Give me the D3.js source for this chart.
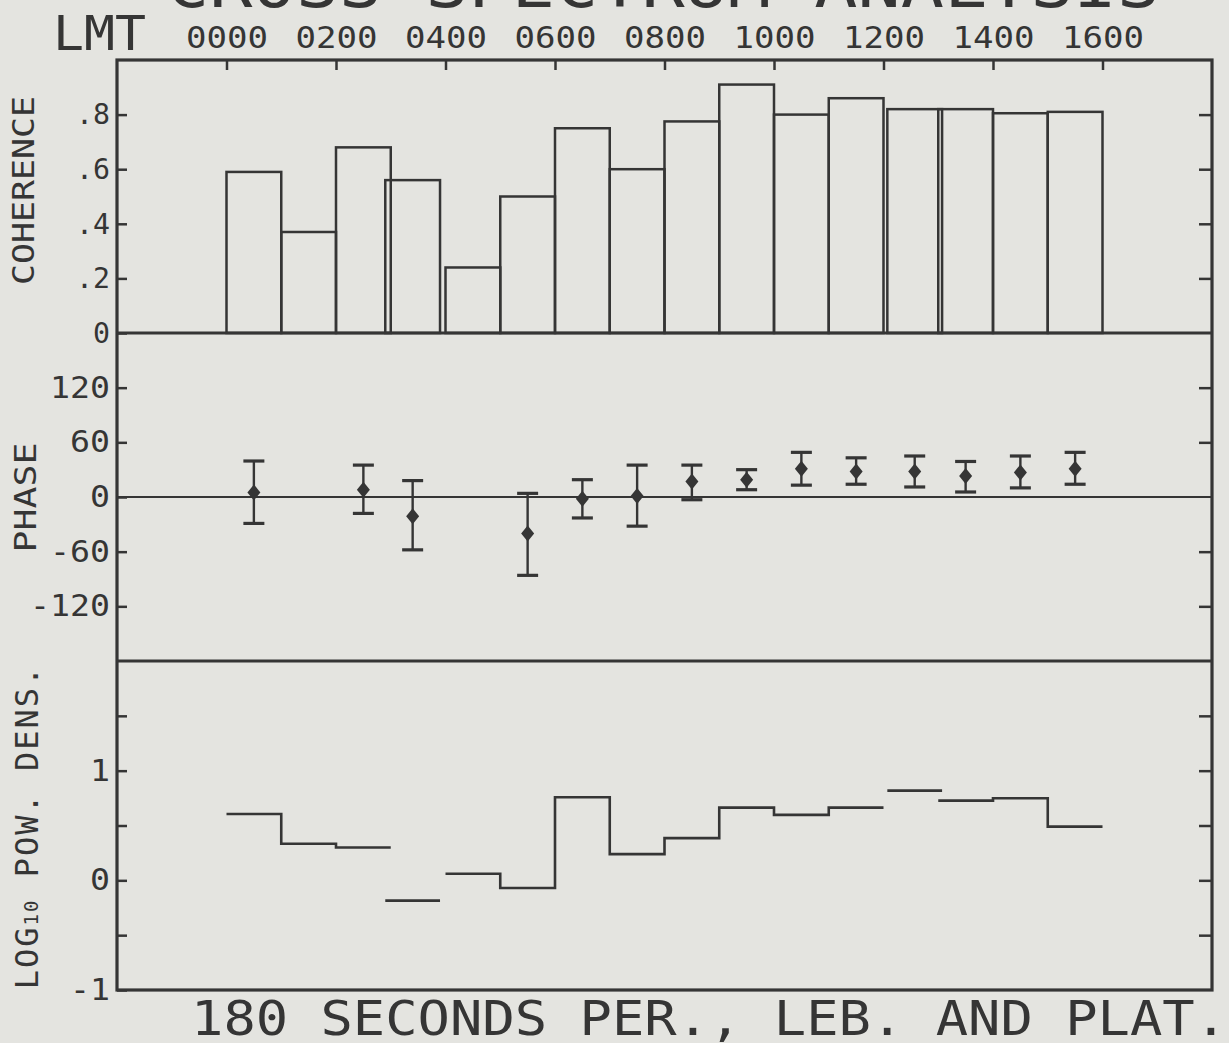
<!DOCTYPE html>
<html><head><meta charset="utf-8">
<script src="https://cdn.jsdelivr.net/npm/d3@7"></script>
<style>
body{margin:0;background:#e4e4e0;}
svg{display:block;}
text{font-family:"DejaVu Sans Mono", monospace; fill:#353535;}
</style></head><body>
<svg id="c" width="1229" height="1043"></svg>
<script>
// ---- data (hours LMT, one bin per hour) ----
const binStart  = [0, 1, 2, 2.9, 4, 5, 6, 7, 8, 9, 10, 11, 12.07, 13, 14, 15];
const coherence = [0.59, 0.37, 0.68, 0.56, 0.24, 0.50, 0.75, 0.60, 0.775, 0.91, 0.80, 0.86, 0.82, 0.82, 0.805, 0.81];
const logPower  = [0.605, 0.333, 0.30, -0.185, 0.06, -0.07, 0.757, 0.239, 0.385, 0.663, 0.597, 0.663, 0.818, 0.727, 0.748, 0.49];
const phaseTime = [0.5, 2.5, 3.4, 5.5, 6.5, 7.5, 8.5, 9.5, 10.5, 11.5, 12.57, 13.5, 14.5, 15.5];
const phase     = [5, 8, -21, -40, -2, 1, 17, 19, 31, 28, 28, 23, 27, 31];
const phaseLow  = [-29, -18, -58, -86, -23, -32, -3, 8, 13, 14, 11, 5.5, 10, 14];
const phaseHigh = [39.5, 35, 18, 4, 19, 35, 35, 30, 49, 43, 45, 39, 45, 49];
const lmtTicks  = [0, 2, 4, 6, 8, 10, 12, 14, 16];
const lmtLabels = ["0000","0200","0400","0600","0800","1000","1200","1400","1600"];
const cohTicks  = [0, 0.2, 0.4, 0.6, 0.8];
const cohLabels = ["0", ".2", ".4", ".6", ".8"];
const phaseTicks  = [-120, -60, 0, 60, 120];
const phaseLabels = ["-120", "-60", "0", "60", "120"];
const logTicks  = [-1, -0.5, 0, 0.5, 1, 1.5];
const logLabels = ["-1", "", "0", "", "1", ""];
const titleText = "CROSS SPECTRUM ANALYSIS";
const bottomText = "180 SECONDS PER., LEB. AND PLAT.";

const ink = "#353535";
const svg = d3.select("#c");
const L = 117, R = 1212, T = 60, S1 = 333, S2 = 661, B = 990;

const x  = d3.scaleLinear().domain([-2, 18]).range([L, R]);
const yC = d3.scaleLinear().domain([0, 1]).range([S1, T]);
const yP = d3.scaleLinear().domain([-180, 180]).range([S2, S1]);
const yL = d3.scaleLinear().domain([-1, 2]).range([B, S2]);

function styleAxis(g, fs, pitch) {
  g.select(".domain").remove();
  g.selectAll(".tick line").attr("stroke", ink).attr("stroke-width", 2.5);
  g.selectAll(".tick text").attr("fill", ink).style("font-size", fs + "px")
    .attr("font-family", null)
    .each(function() {
      const t = d3.select(this).text();
      if (t.length && pitch) d3.select(this).attr("textLength", t.length * pitch).attr("lengthAdjust", "spacingAndGlyphs");
    });
}

// top axis
svg.append("g").attr("transform", `translate(0,${T})`)
  .call(d3.axisTop(x).tickValues(lmtTicks).tickSizeInner(-10).tickSizeOuter(0).tickPadding(12)
        .tickFormat((d, i) => lmtLabels[i]))
  .call(g => styleAxis(g, 31, 20.5));

// left axes
svg.append("g").attr("transform", `translate(${L},0)`)
  .call(d3.axisLeft(yC).tickValues(cohTicks).tickSizeInner(-10).tickSizeOuter(0).tickPadding(7)
        .tickFormat((d, i) => cohLabels[i]))
  .call(g => styleAxis(g, 29, 17));
svg.append("g").attr("transform", `translate(${L},0)`)
  .call(d3.axisLeft(yP).tickValues(phaseTicks).tickSizeInner(-10).tickSizeOuter(0).tickPadding(7)
        .tickFormat((d, i) => phaseLabels[i]))
  .call(g => styleAxis(g, 30, 20));
svg.append("g").attr("transform", `translate(${L},0)`)
  .call(d3.axisLeft(yL).tickValues(logTicks).tickSizeInner(-10).tickSizeOuter(0).tickPadding(7)
        .tickFormat((d, i) => logLabels[i]))
  .call(g => styleAxis(g, 30, 20));

// right axes (ticks only)
[[yC, cohTicks.slice(1)], [yP, phaseTicks.filter(d => d !== 0)], [yL, logTicks.slice(1)]].forEach(([sc, tv]) => {
  svg.append("g").attr("transform", `translate(${R},0)`)
    .call(d3.axisRight(sc).tickValues(tv).tickSizeInner(-13).tickSizeOuter(0).tickFormat(""))
    .call(g => styleAxis(g, 10, 0));
});

// coherence bars
svg.append("g").selectAll("rect").data(coherence).join("rect")
  .attr("x", (d, i) => x(binStart[i]))
  .attr("width", (d, i) => x(binStart[i] + 1) - x(binStart[i]))
  .attr("y", d => yC(d))
  .attr("height", d => yC(0) - yC(d))
  .attr("fill", "none").attr("stroke", ink).attr("stroke-width", 2.5);

// phase zero line
svg.append("line").attr("x1", L).attr("x2", R).attr("y1", yP(0)).attr("y2", yP(0))
  .attr("stroke", ink).attr("stroke-width", 2.2);

// phase error bars + diamonds
const pg = svg.append("g").selectAll("g").data(phase).join("g")
  .attr("transform", (d, i) => `translate(${x(phaseTime[i])},0)`);
pg.append("line").attr("y1", (d, i) => yP(phaseLow[i])).attr("y2", (d, i) => yP(phaseHigh[i]))
  .attr("stroke", ink).attr("stroke-width", 2.4);
pg.append("line").attr("x1", -10.5).attr("x2", 10.5)
  .attr("y1", (d, i) => yP(phaseLow[i])).attr("y2", (d, i) => yP(phaseLow[i]))
  .attr("stroke", ink).attr("stroke-width", 3.2);
pg.append("line").attr("x1", -10.5).attr("x2", 10.5)
  .attr("y1", (d, i) => yP(phaseHigh[i])).attr("y2", (d, i) => yP(phaseHigh[i]))
  .attr("stroke", ink).attr("stroke-width", 3.2);
pg.append("path").attr("d", d => `M0,${yP(d) - 8}L6.5,${yP(d)}L0,${yP(d) + 8}L-6.5,${yP(d)}Z`)
  .attr("fill", ink);

// log power density step line (segments joined when bins are adjacent)
const groups = [];
logPower.forEach((v, i) => {
  const seg = [[binStart[i], v], [binStart[i] + 1, v]];
  if (i > 0 && Math.abs(binStart[i - 1] + 1 - binStart[i]) < 1e-6) groups[groups.length - 1].push(...seg);
  else groups.push(seg);
});
const line = d3.line().x(d => x(d[0])).y(d => yL(d[1]));
svg.append("g").selectAll("path").data(groups).join("path")
  .attr("d", line).attr("fill", "none").attr("stroke", ink).attr("stroke-width", 2.6);

// frame and panel separators
svg.append("rect").attr("x", L).attr("y", T).attr("width", R - L).attr("height", B - T)
  .attr("fill", "none").attr("stroke", ink).attr("stroke-width", 3.2);
[S1, S2].forEach(y => svg.append("line").attr("x1", L).attr("x2", R).attr("y1", y).attr("y2", y)
  .attr("stroke", ink).attr("stroke-width", 3.2));

// texts
svg.append("text").attr("x", 166).attr("y", 7).style("font-size", "64px")
  .attr("textLength", 994).attr("lengthAdjust", "spacingAndGlyphs").text(titleText);
svg.append("text").attr("x", 53).attr("y", 50).style("font-size", "48px")
  .attr("textLength", 93).attr("lengthAdjust", "spacingAndGlyphs").text("LMT");
svg.append("text").attr("x", 191).attr("y", 1035).style("font-size", "48px")
  .attr("textLength", 1036).attr("lengthAdjust", "spacingAndGlyphs").text(bottomText);

svg.append("text").attr("transform", "translate(34,190.5) rotate(-90)").attr("text-anchor", "middle")
  .style("font-size", "30px").attr("textLength", 189).attr("lengthAdjust", "spacingAndGlyphs").text("COHERENCE");
svg.append("text").attr("transform", "translate(36,497.5) rotate(-90)").attr("text-anchor", "middle")
  .style("font-size", "31px").attr("textLength", 110).attr("lengthAdjust", "spacingAndGlyphs").text("PHASE");
const lt = svg.append("text").attr("transform", "translate(38,827) rotate(-90)").attr("text-anchor", "middle")
  .style("font-size", "32px").style("letter-spacing", "2px");
lt.append("tspan").text("LOG");
lt.append("tspan").style("font-size", "19px").text("10");
lt.append("tspan").text(" POW. DENS.");
</script></body></html>
